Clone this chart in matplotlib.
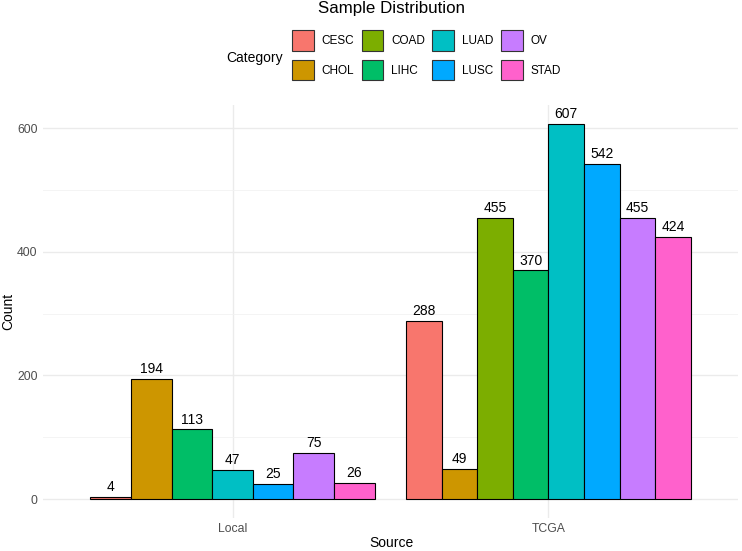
import matplotlib.pyplot as plt
from matplotlib.patches import Patch

plt.rcParams['font.family'] = ['Liberation Sans', 'DejaVu Sans']

# data
sources = ['Local', 'TCGA']
categories = ['CESC', 'CHOL', 'COAD', 'LIHC', 'LUAD', 'LUSC', 'OV', 'STAD']
colors = ['#F8766D', '#CD9600', '#7CAE00', '#00BE67',
          '#00BFC4', '#00A9FF', '#C77CFF', '#FF61CC']
local_counts = {'CESC': 4, 'CHOL': 194, 'LIHC': 113, 'LUAD': 47,
                'LUSC': 25, 'OV': 75, 'STAD': 26}
tcga_counts = {'CESC': 288, 'CHOL': 49, 'COAD': 455, 'LIHC': 370,
               'LUAD': 607, 'LUSC': 542, 'OV': 455, 'STAD': 424}
counts = [local_counts, tcga_counts]

fig = plt.figure(figsize=(7.42, 5.51), dpi=100)
ax = fig.add_axes([0.058, 0.06, 0.9366, 0.7494])

# dodge like ggplot: width 0.9 split over categories present in each group
for i, d in enumerate(counts):
    present = [c for c in categories if c in d]
    n = len(present)
    w = 0.9 / n
    for j, c in enumerate(present):
        x = i + 1 - 0.45 + w * (j + 0.5)
        bars = ax.bar(x, d[c], width=w, color=colors[categories.index(c)],
                      edgecolor='black', linewidth=0.8, zorder=3)
        ax.bar_label(bars, padding=2, fontsize=10, color='black')

ymax = max(max(d.values()) for d in counts)
ax.set_ylim(-0.05 * ymax, 1.05 * ymax)
ax.set_xlim(0.4, 2.6)
ax.set_xticks([1, 2])
ax.set_xticklabels(sources)
ax.set_yticks([0, 200, 400, 600])
ax.set_yticks([100, 300, 500], minor=True)
ax.grid(which='major', color='#EBEBEB', linewidth=1.0, zorder=0)
ax.grid(which='minor', axis='y', color='#F2F2F2', linewidth=0.6, zorder=0)
for s in ax.spines.values():
    s.set_visible(False)
ax.tick_params(which='both', length=0)
ax.tick_params(axis='x', pad=4, labelsize=8.8, labelcolor='#4D4D4D')
ax.tick_params(axis='y', pad=4, labelsize=8.8, labelcolor='#4D4D4D')

fig.text(0.527, 1 - 543 / 551, 'Source', ha='center', va='center', fontsize=10)
fig.text(8 / 742, 1 - 311 / 551, 'Count', ha='center', va='center',
         rotation=90, fontsize=10)
fig.text(0.527, 0.984, 'Sample Distribution', ha='center', va='center', fontsize=12.2)
fig.text(0.3046, 0.895, 'Category', ha='left', va='center', fontsize=10)

handles = [Patch(facecolor=c, edgecolor='#333333', linewidth=0.8) for c in colors]
fig.legend(handles, categories, ncol=4, loc='upper left',
           bbox_to_anchor=(0.3935, 0.945), frameon=False, fontsize=8.5,
           handlelength=1.85, handleheight=2.3, handletextpad=0.68,
           columnspacing=0.6, labelspacing=0.75, borderpad=0, borderaxespad=0)

fig.savefig('out.png', dpi=100, facecolor='white')
